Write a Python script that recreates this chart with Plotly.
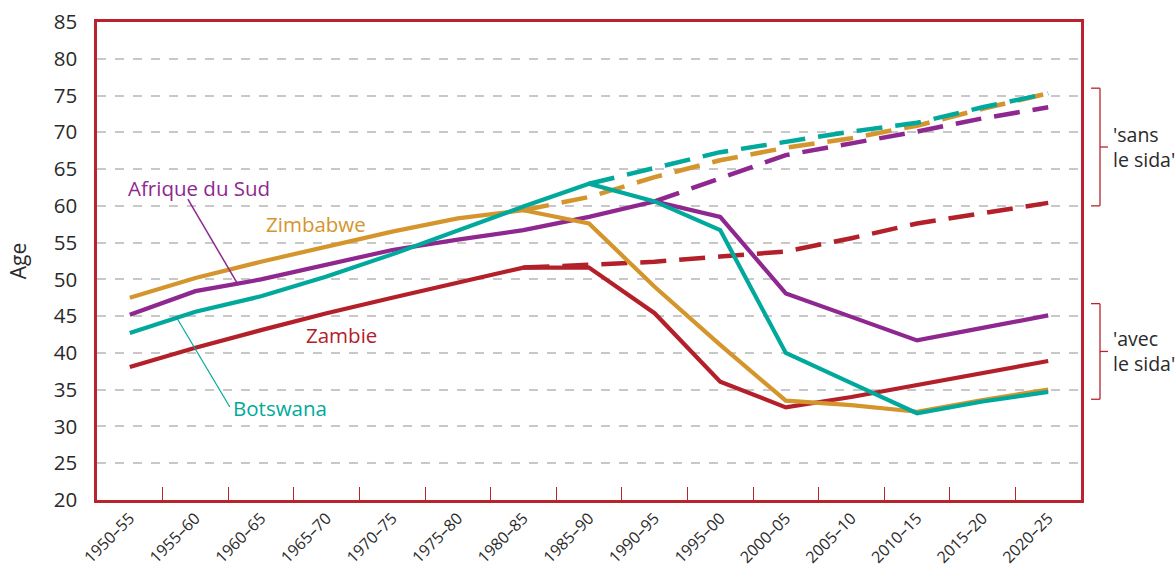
import plotly.graph_objects as go

periods = ["1950–55", "1955–60", "1960–65", "1965–70", "1970–75", "1975–80", "1980–85",
           "1985–90", "1990–95", "1995–00", "2000–05", "2005–10", "2010–15", "2015–20", "2020–25"]

# 'avec le sida' (solid)
afrique_sud = [45.2, 48.4, 50.0, 52.0, 54.0, 55.4, 56.7, 58.5, 60.6, 58.5, 48.1, 44.9, 41.7, 43.4, 45.1]
zimbabwe = [47.5, 50.2, 52.4, 54.4, 56.5, 58.3, 59.4, 57.6, 49.0, 41.1, 33.5, 32.9, 32.0, 33.6, 35.0]
botswana = [42.7, 45.6, 47.7, 50.4, 53.4, 56.7, 59.9, 63.0, 60.6, 56.7, 40.0, 35.9, 31.8, 33.4, 34.7]
zambie = [38.1, 40.7, 43.1, 45.4, 47.5, 49.5, 51.6, 51.6, 45.4, 36.1, 32.6, 34.0, 35.6, 37.3, 38.9]

# 'sans le sida' (dashed)
afrique_sud_sans = [None] * 8 + [60.6, 63.8, 66.9, 68.5, 70.1, 71.9, 73.4]
zimbabwe_sans = [None] * 6 + [59.4, 61.2, 63.9, 66.2, 67.9, 69.2, 70.9, 73.2, 75.3]
botswana_sans = [None] * 7 + [63.0, 65.1, 67.3, 68.7, 70.1, 71.3, 73.4, 75.3]
zambie_sans = [None] * 6 + [51.6, 52.0, 52.4, 53.1, 53.8, 55.6, 57.6, 59.0, 60.4]

RED = "#B3202A"
PURPLE = "#8E278F"
ORANGE = "#D4952D"
TEAL = "#00A99C"
FRAME = "#B8232E"
TXT = "#2a2a2a"
FONT = "Open Sans"

fig = go.Figure()
DASH = "26px,13px"
for vals, col in [(zambie_sans, RED), (afrique_sud_sans, PURPLE), (zimbabwe_sans, ORANGE), (botswana_sans, TEAL)]:
    fig.add_trace(go.Scatter(x=periods, y=vals, mode="lines",
                             line=dict(color=col, width=4.5, dash=DASH), showlegend=False))
for vals, col in [(zambie, RED), (afrique_sud, PURPLE), (zimbabwe, ORANGE), (botswana, TEAL)]:
    fig.add_trace(go.Scatter(x=periods, y=vals, mode="lines",
                             line=dict(color=col, width=4.2), showlegend=False))

# Series labels
labels = [("Afrique du Sud", 1.05, 62.4, PURPLE), ("Zimbabwe", 2.84, 57.5, ORANGE),
          ("Zambie", 3.23, 42.4, RED), ("Botswana", 2.29, 32.5, TEAL)]
for t, xi, yv, col in labels:
    fig.add_annotation(x=xi, y=yv, xref="x", yref="y", text=t, showarrow=False,
                       font=dict(family=FONT, size=20.5, color=col))

# leader lines
fig.add_shape(type="line", xref="x", yref="y", x0=0.885, y0=60.9, x1=1.63, y1=49.6,
              line=dict(color=PURPLE, width=1.5))
fig.add_shape(type="line", xref="x", yref="y", x0=0.717, y0=44.75, x1=1.525, y1=32.65,
              line=dict(color=TEAL, width=1.2))

# Brackets on the right
def bracket(top, bottom, text):
    xl, xv, xm = 1.0102, 1.0193, 1.0274
    mid = (top + bottom) / 2
    for (x0, y0, x1, y1) in [(xl, top, xv, top), (xv, top, xv, bottom), (xl, bottom, xv, bottom),
                             (xv, mid, xm, mid)]:
        fig.add_shape(type="line", xref="paper", yref="y", x0=x0, y0=y0, x1=x1, y1=y1,
                      line=dict(color=FRAME, width=1.3))
    fig.add_annotation(x=1.0305, y=mid, xref="paper", yref="y", text=text, showarrow=False,
                       xanchor="left", yanchor="middle", align="left",
                       font=dict(family=FONT, size=19.5, color=TXT))

bracket(76.0, 60.0, "'sans<br>le sida'")
bracket(46.7, 33.7, "'avec<br>le sida'")

fig.update_layout(
    width=1176, height=571,
    margin=dict(l=97, r=95, t=22, b=71, autoexpand=False),
    paper_bgcolor="white", plot_bgcolor="white",
    font=dict(family=FONT, size=18, color=TXT),
    showlegend=False,
    xaxis=dict(type="category", categoryorder="array", categoryarray=periods,
               range=[-0.5, 14.5], tickson="boundaries", ticks="inside", ticklen=13,
               tickcolor=FRAME, tickwidth=1, showgrid=False, showline=True, mirror=True,
               linecolor=FRAME, linewidth=2.5, tickangle=-45, automargin=False,
               tickfont=dict(family=FONT, size=16, color=TXT), zeroline=False),
    yaxis=dict(range=[20, 85], dtick=5, tick0=20, showgrid=True, gridcolor="#c8c8c8",
               gridwidth=1.5, griddash="dash", showline=True, mirror=True, linecolor=FRAME,
               linewidth=2.5, ticks="", zeroline=False, ticklabelstandoff=13, automargin=False,
               tickfont=dict(family=FONT, size=20.5, color=TXT),
               title=dict(text="Age", font=dict(family=FONT, size=21, color=TXT), standoff=22)),
)

fig.write_html("out.html", config={"displayModeBar": False},
               post_script="document.body.style.margin='0';document.body.style.overflow='hidden';")
